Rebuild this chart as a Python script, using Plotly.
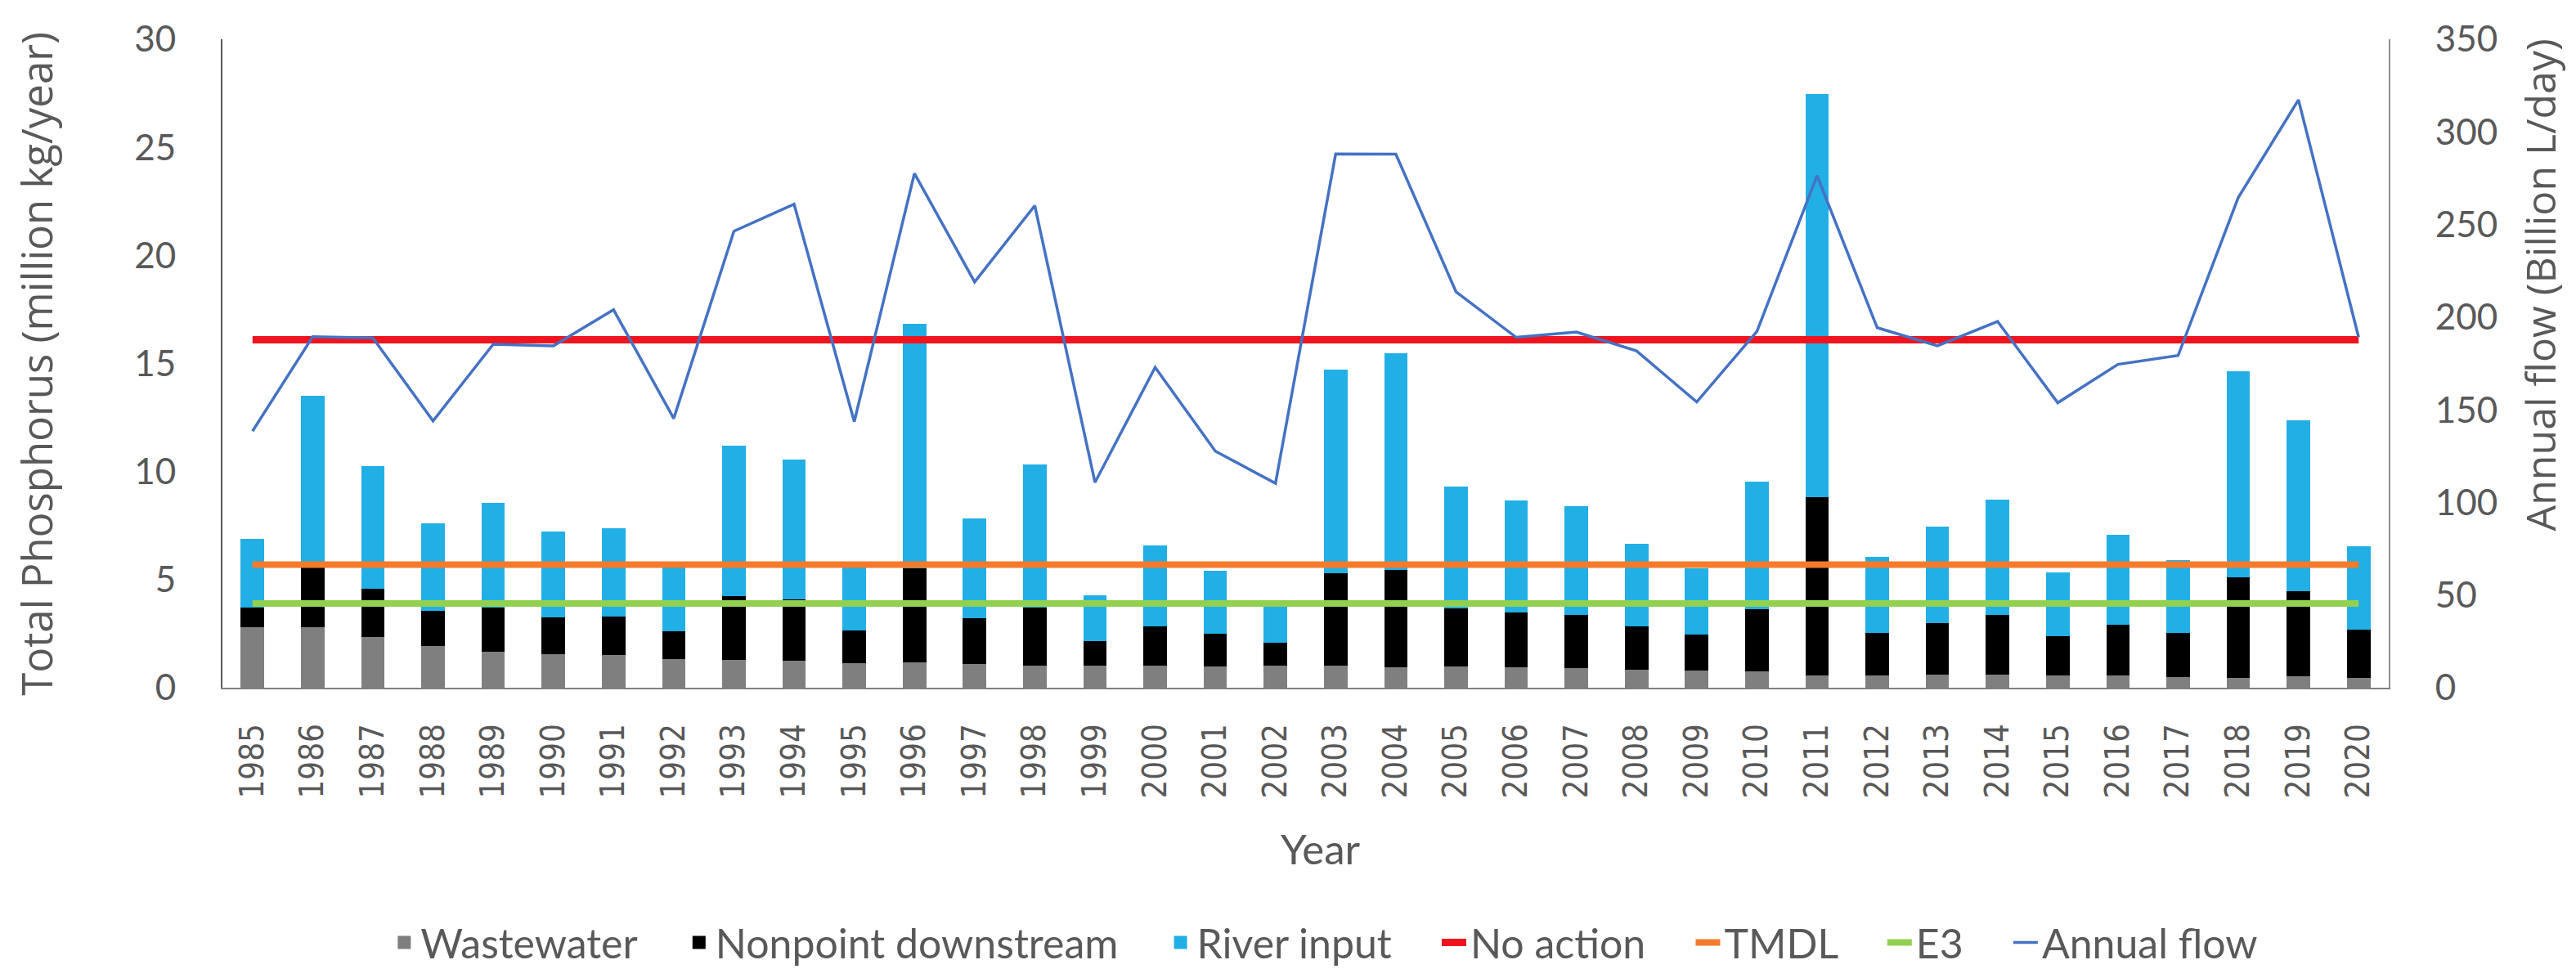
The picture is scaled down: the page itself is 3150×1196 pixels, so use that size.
import plotly.graph_objects as go

# values
years = [str(y) for y in range(1985, 2021)]

wastewater = [2.79, 2.79, 2.36, 1.94, 1.66, 1.54, 1.52, 1.33, 1.27, 1.23,
              1.13, 1.16, 1.11, 1.01, 1.02, 1.02, 0.99, 1.01, 1.01, 0.93,
              0.99, 0.95, 0.92, 0.84, 0.80, 0.75, 0.57, 0.57, 0.60, 0.62,
              0.56, 0.57, 0.50, 0.47, 0.54, 0.47]

nonpoint = [0.90, 2.78, 2.22, 1.61, 2.03, 1.71, 1.76, 1.27, 2.98, 2.84,
            1.52, 4.38, 2.10, 2.71, 1.15, 1.80, 1.49, 1.08, 4.28, 4.51,
            2.67, 2.53, 2.44, 1.98, 1.67, 2.88, 8.23, 1.98, 2.40, 2.75,
            1.82, 2.35, 2.03, 4.62, 3.93, 2.23]

river = [3.18, 7.93, 5.66, 4.04, 4.86, 3.99, 4.08, 3.00, 6.95, 6.47,
         3.19, 11.29, 4.64, 6.60, 2.09, 3.75, 2.93, 1.76, 9.43, 10.04,
         5.65, 5.18, 5.04, 3.82, 3.06, 5.89, 18.67, 3.49, 4.45, 5.35,
         2.97, 4.17, 3.37, 9.55, 7.91, 3.85]

annual_flow = [138.5, 189.4, 188.8, 144.0, 185.4, 184.5, 204.0, 145.3, 246.4, 261.0,
               143.6, 277.6, 219.0, 260.2, 110.8, 172.9, 127.7, 110.3, 288.1, 288.0,
               213.7, 189.1, 192.0, 181.8, 154.2, 192.3, 276.4, 194.3, 184.5, 197.7,
               153.8, 174.5, 179.3, 264.6, 317.3, 189.1]

no_action = 16.1
tmdl = 5.69
e3 = 3.9

GREY_TXT = "#595959"
TICK_FONT = dict(family="Lato", size=44, color=GREY_TXT)
BAR_COLORS = {"Wastewater": "#7f7f7f", "Nonpoint downstream": "#000000", "River input": "#21afe6"}
PAD = "\u00a0" * 4  # extra room between legend entries, like the excel legend

fig = go.Figure()

# legend-only square swatches (plotly's bar legend icon is tiny)
for name, col in BAR_COLORS.items():
    fig.add_scatter(x=[None], y=[None], mode="markers", name=name + PAD,
                    marker=dict(symbol="square", size=30, color=col))

for name, vals in [("Wastewater", wastewater), ("Nonpoint downstream", nonpoint), ("River input", river)]:
    fig.add_bar(x=years, y=vals, name=name, marker_color=BAR_COLORS[name],
                marker_line_width=0, showlegend=False)

ends = [years[0], years[-1]]
fig.add_scatter(x=ends, y=[no_action, no_action], name="No action" + PAD, mode="lines",
                line=dict(color="#f0141e", width=9))
fig.add_scatter(x=ends, y=[tmdl, tmdl], name="TMDL" + PAD, mode="lines",
                line=dict(color="#f47b2b", width=8))
fig.add_scatter(x=ends, y=[e3, e3], name="E3" + PAD, mode="lines",
                line=dict(color="#92d050", width=8))
fig.add_scatter(x=years, y=annual_flow, name="Annual flow", mode="lines", yaxis="y2",
                line=dict(color="#4472c4", width=3.5))

fig.update_layout(
    width=3150, height=1196,
    margin=dict(l=264, r=237, t=22, b=348),
    barmode="stack", bargap=0.61,
    plot_bgcolor="white", paper_bgcolor="white",
    showlegend=True,
    legend=dict(orientation="h", x=0.509, xanchor="center", y=-0.3436, yanchor="top",
                font=dict(family="Lato", size=50, color=GREY_TXT), itemwidth=30,
                itemsizing="trace", traceorder="normal"),
    xaxis=dict(type="category", tickangle=-90, showgrid=False, ticks="",
               showline=True, linecolor="#7f7f7f", linewidth=2,
               tickfont=dict(family="DejaVu Sans Condensed, DejaVu Sans", size=40, color=GREY_TXT),
               ticklabelstandoff=26),
    yaxis=dict(range=[0, 30], dtick=5, showgrid=False, zeroline=False, ticks="",
               showline=True, linecolor="#595959", linewidth=2,
               tickfont=TICK_FONT, ticklabelstandoff=46, ticklabeloverflow="allow"),
    yaxis2=dict(range=[0, 350], dtick=50, overlaying="y", side="right", showgrid=False,
                zeroline=False, ticks="", showline=True, linecolor="#8c8c8c", linewidth=2,
                tickfont=TICK_FONT, ticklabelstandoff=46, ticklabeloverflow="allow"),
)

fig.add_annotation(text="Total Phosphorus (million kg/year)", xref="paper", yref="paper",
                   x=-0.0864, y=0.5, xanchor="center", yanchor="middle", textangle=-90,
                   showarrow=False, font=dict(family="Open Sans", size=51, color=GREY_TXT))
fig.add_annotation(text="Annual flow (Billion L/day)", xref="paper", yref="paper",
                   x=1.0698, y=0.621, xanchor="center", yanchor="middle", textangle=-90,
                   showarrow=False, font=dict(family="Open Sans", size=50, color=GREY_TXT))
fig.add_annotation(text="Year", xref="paper", yref="paper", x=0.507, y=-0.248,
                   xanchor="center", yanchor="middle", showarrow=False,
                   font=dict(family="Lato", size=51, color=GREY_TXT))

fig.write_html("out.html")
